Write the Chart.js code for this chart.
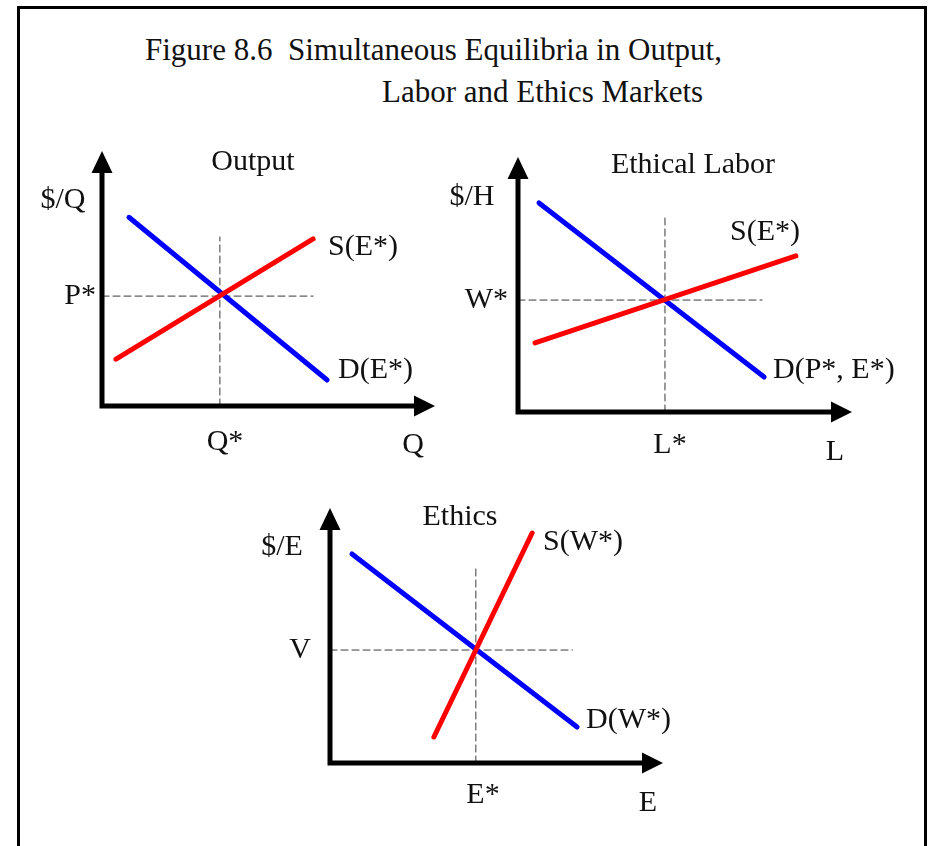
<!DOCTYPE html>
<html>
<head>
<meta charset="utf-8">
<script src="https://cdn.jsdelivr.net/npm/chart.js@4.4.1/dist/chart.umd.min.js"></script>
<style>
  body{margin:0;background:#fff;width:930px;height:846px;overflow:hidden;position:relative;
       font-family:"Liberation Serif","Times New Roman",serif;color:#111;}
  #frame{position:absolute;left:17px;top:6px;width:904px;height:900px;border:3px solid #000;border-bottom:none;}
  .title{position:absolute;font-size:31px;line-height:36px;white-space:pre;}
  canvas.panel{position:absolute;}
</style>
</head>
<body>
<div id="frame"></div>
<div class="title" style="left:145px;top:32px">Figure 8.6  Simultaneous Equilibria in Output,</div>
<div class="title" style="left:382px;top:74px">Labor and Ethics Markets</div>

<canvas id="cOutput" class="panel" width="440" height="350" style="left:25px;top:125px"></canvas>
<canvas id="cLabor"  class="panel" width="490" height="350" style="left:430px;top:125px"></canvas>
<canvas id="cEthics" class="panel" width="450" height="340" style="left:240px;top:485px"></canvas>

<script>
// valores, en unidades de 0..10 sobre cada eje
// ---- Output
const outDemandX = [0.81, 6.76];
const outDemandY = [7.40, 1.02];
const outSupplyX = [0.42, 6.34];
const outSupplyY = [1.84, 6.55];
const outEq      = [3.54, 4.31];   // Q*, P*
const outGuideTop = 6.63, outGuideRight = 6.34;

// ---- Ethical Labor
const labDemandX = [0.63, 7.37];
const labDemandY = [8.20, 1.37];
const labSupplyX = [0.51, 8.32];
const labSupplyY = [2.71, 6.12];
const labEq      = [4.40, 4.39];   // L*, W*
const labGuideTop = 7.65, labGuideRight = 7.31;

// ---- Ethics
const ethDemandX = [0.66, 7.42];
const ethDemandY = [8.20, 1.41];
const ethSupplyX = [3.12, 6.07];
const ethSupplyY = [1.02, 9.02];
const ethEq      = [4.38, 4.43];   // E*, V
const ethGuideTop = 7.69, ethGuideRight = 7.28;

const BLUE = '#0000ff', RED = '#ff0000', GUIDE = '#3a3a3a';
const FONT = '"Liberation Serif", "Times New Roman", serif';

function pts(xs, ys){ return xs.map((x,i)=>({x, y:ys[i]})); }

// ejes gruesos con flechas + textos (posiciones en px desde el origen de los ejes)
function econPlugin(labels){
  return {
    id:'econAxes',
    afterDatasetsDraw(chart){
      const ctx = chart.ctx, a = chart.chartArea;
      const x0 = a.left, y0 = a.bottom;
      ctx.save();
      ctx.strokeStyle = '#000'; ctx.fillStyle = '#000';
      ctx.lineWidth = 5; ctx.lineCap = 'round';
      ctx.beginPath();
      ctx.moveTo(x0, a.top + 20); ctx.lineTo(x0, y0); ctx.lineTo(a.right - 20, y0);
      ctx.stroke();
      // flecha eje x
      ctx.beginPath();
      ctx.moveTo(a.right, y0); ctx.lineTo(a.right - 21, y0 - 10.5); ctx.lineTo(a.right - 21, y0 + 10.5);
      ctx.closePath(); ctx.fill();
      // flecha eje y
      ctx.beginPath();
      ctx.moveTo(x0, a.top); ctx.lineTo(x0 - 10.5, a.top + 22); ctx.lineTo(x0 + 10.5, a.top + 22);
      ctx.closePath(); ctx.fill();

      ctx.fillStyle = '#111';
      ctx.font = '30px ' + FONT;
      ctx.textBaseline = 'middle';
      labels.forEach(([txt, dx, dy, align])=>{
        ctx.textAlign = align;
        ctx.fillText(txt, x0 + dx, y0 + dy);
      });
      ctx.restore();
    }
  };
}

function makePanel(id, box, demand, supply, eq, guideTop, guideRight, labels){
  const cv = document.getElementById(id);
  const r = cv.getBoundingClientRect();
  const padding = {
    left: box.left - r.left, top: box.top - r.top,
    right: r.right - box.right, bottom: r.bottom - box.bottom
  };
  const line = (data, color, w, dash, order) => ({
    data, borderColor: color, borderWidth: w, borderDash: dash || [],
    borderCapStyle: 'round', pointRadius: 0, tension: 0, fill: false, clip: false, order
  });
  return new Chart(cv, {
    type: 'line',
    data: { datasets: [
      line(demand, BLUE, 5, null, 1),
      line(supply, RED, 5, null, 0),
      line([{x:eq[0], y:0}, {x:eq[0], y:guideTop}], GUIDE, 1, [7,4], 2),
      line([{x:0, y:eq[1]}, {x:guideRight, y:eq[1]}], GUIDE, 1, [7,4], 2)
    ]},
    options: {
      responsive: false, animation: false, devicePixelRatio: 1,
      layout: { padding },
      plugins: { legend:{display:false}, tooltip:{enabled:false} },
      scales: {
        x: { type:'linear', min:0, max:10, display:false },
        y: { type:'linear', min:0, max:10, display:false }
      }
    },
    plugins: [econPlugin(labels)]
  });
}

makePanel('cOutput', {left:102, top:151, right:435, bottom:406},
  pts(outDemandX, outDemandY), pts(outSupplyX, outSupplyY), outEq, outGuideTop, outGuideRight,
  [['Output',151,-244,'center'], ['$/Q',-39,-206,'center'], ['P*',-6,-110,'right'],
   ['S(E*)',226,-159,'left'], ['D(E*)',236,-36,'left'], ['Q*',123,36,'center'], ['Q',311,39,'center']]);

makePanel('cLabor', {left:518, top:157, right:852, bottom:412},
  pts(labDemandX, labDemandY), pts(labSupplyX, labSupplyY), labEq, labGuideTop, labGuideRight,
  [['Ethical Labor',175,-247,'center'], ['$/H',-46,-215,'center'], ['W*',-10,-112,'right'],
   ['S(E*)',212,-180,'left'], ['D(P*, E*)',255,-42,'left'], ['L*',152,33,'center'], ['L',317,40,'center']]);

makePanel('cEthics', {left:330, top:508, right:663, bottom:763},
  pts(ethDemandX, ethDemandY), pts(ethSupplyX, ethSupplyY), ethEq, ethGuideTop, ethGuideRight,
  [['Ethics',130,-246,'center'], ['$/E',-48,-216,'center'], ['V',-30,-113,'center'],
   ['S(W*)',213,-221,'left'], ['D(W*)',256,-43,'left'], ['E*',153,32,'center'], ['E',318,40,'center']]);
</script>
</body>
</html>
